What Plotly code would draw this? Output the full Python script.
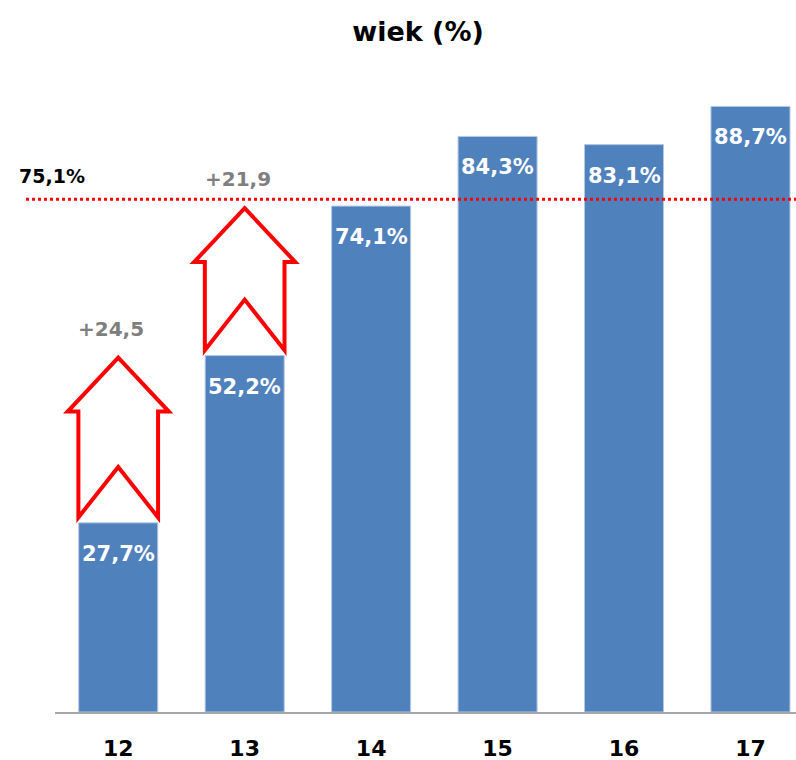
import plotly.graph_objects as go

categories = ["12", "13", "14", "15", "16", "17"]
values = [27.7, 52.2, 74.1, 84.3, 83.1, 88.7]
average = 75.1
arrow_pairs = [(0, 1), (1, 2)]  # arrows from bar i to bar j

FONT = "DejaVu Sans"
BAR_COLOR = "#4F81BD"

def fmt(v, suffix=""):
    return f"{v:.1f}".replace(".", ",") + suffix

xs = list(range(len(categories)))

fig = go.Figure()
fig.add_trace(go.Bar(
    x=xs, y=values,
    marker=dict(color=BAR_COLOR, line=dict(color="#b4c8e4", width=1)),
    hoverinfo="skip",
))

annotations = []
shapes = []

# value labels inside bars
for x, v in zip(xs, values):
    annotations.append(dict(
        x=x, y=v, xref="x", yref="y", text=fmt(v, "%"), showarrow=False,
        yanchor="middle", yshift=-31,
        font=dict(family=FONT, size=21, color="white", weight="bold"),
    ))

# arrows
HEAD_H = 7.9
NOTCH = 7.4
HEAD_HW = 0.40
SHAFT_HW = 0.315
for i, j in arrow_pairs:
    c = xs[i]
    bot = values[i] + 0.8
    top = values[j] - 0.3
    hb = top - HEAD_H
    pts = [
        (c, top), (c + HEAD_HW, hb), (c + SHAFT_HW, hb), (c + SHAFT_HW, bot),
        (c, bot + NOTCH), (c - SHAFT_HW, bot), (c - SHAFT_HW, hb), (c - HEAD_HW, hb),
    ]
    path = "M " + " L ".join(f"{px},{py}" for px, py in pts) + " Z"
    shapes.append(dict(type="path", path=path, xref="x", yref="y",
                       line=dict(color="#FF0000", width=4), fillcolor="white",
                       layer="above"))
    annotations.append(dict(
        x=c, y=values[j], xref="x", yref="y",
        text="+" + fmt(values[j] - values[i]), showarrow=False,
        yanchor="middle", yshift=27, xshift=-7,
        font=dict(family=FONT, size=20, color="#7F7F7F", weight="bold"),
    ))

# average line (paper coords are relative to the plot area: left 55px, width 741px)
shapes.append(dict(type="line", xref="paper", yref="y", x0=(26 - 55) / 741, x1=1.0,
                   y0=average, y1=average,
                   line=dict(color="#FF0000", width=3, dash="dot"), layer="above"))
annotations.append(dict(
    x=(17 - 55) / 741, y=average, xref="paper", yref="y", text=fmt(average, "%"),
    showarrow=False, xanchor="left", yanchor="middle", yshift=23,
    font=dict(family=FONT, size=19, color="black", weight="bold"),
))

fig.update_layout(
    width=796, height=760,
    margin=dict(l=55, r=0, t=90, b=48),
    paper_bgcolor="white", plot_bgcolor="white",
    showlegend=False,
    bargap=0.375,
    title=dict(text="wiek (%)", x=418 / 796, xanchor="center", xref="container",
               y=1 - 32 / 760, yanchor="middle", yref="container",
               font=dict(family=FONT, size=27, color="black", weight="bold")),
    xaxis=dict(
        range=[-0.5, 5.36], tickvals=xs, ticktext=categories,
        showgrid=False, zeroline=False, showline=True, linecolor="#A6A6A6",
        linewidth=2, ticks="", fixedrange=True, ticklabelstandoff=16,
        tickfont=dict(family=FONT, size=22, color="black", weight="bold"),
    ),
    yaxis=dict(range=[0, 91.1], visible=False, showgrid=False, zeroline=False,
               fixedrange=True),
    shapes=shapes,
    annotations=annotations,
)

fig.write_html("out.html", config={"displayModeBar": False},
               post_script="document.body.style.margin='0';")
